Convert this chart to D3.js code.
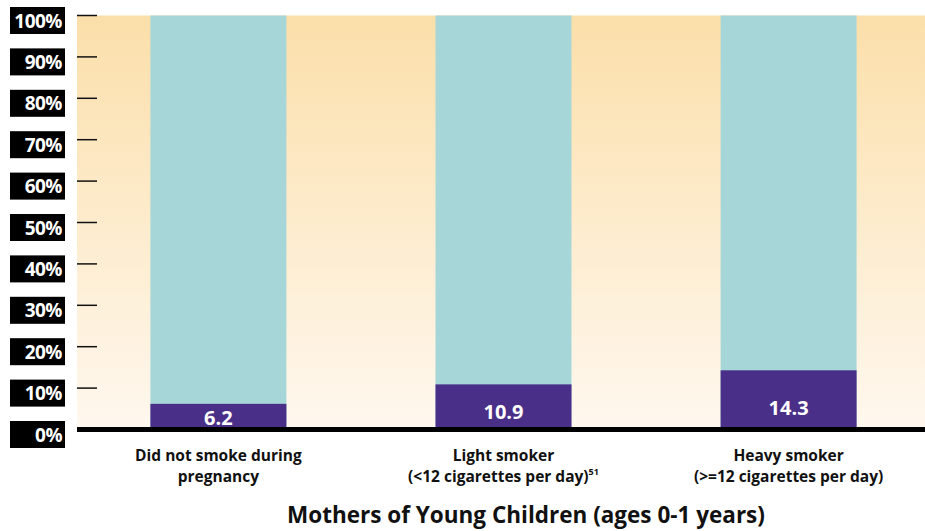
<!DOCTYPE html>
<html><head><meta charset="utf-8">
<script src="https://cdn.jsdelivr.net/npm/d3@7"></script>
<style>body{margin:0;background:#fff}svg{display:block}text{font-family:"Open Sans",sans-serif;font-weight:700}</style>
</head><body>
<script>
const categories = [["Did not smoke during","pregnancy"],["Light smoker","(<12 cigarettes per day)"],["Heavy smoker","(>=12 cigarettes per day)"]];
const superscripts = ["","51",""];
const values = [6.2, 10.9, 14.3];
const totals = [100, 100, 100];
const yTicks = [0,10,20,30,40,50,60,70,80,90,100];
const xTitle = "Mothers of Young Children (ages 0-1 years)";

const W=925,H=531;
const svg=d3.select("body").append("svg").attr("width",W).attr("height",H);
const y=d3.scaleLinear().domain([0,100]).range([429.5,15.5]);
const x=d3.scaleBand().domain(d3.range(categories.length)).range([76,931]).paddingInner(0.523).paddingOuter(0.261);

const defs=svg.append("defs");
const g=defs.append("linearGradient").attr("id","bg").attr("x1",0).attr("y1",0).attr("x2",0).attr("y2",1);
g.append("stop").attr("offset","0%").attr("stop-color","#FBDFAA");
g.append("stop").attr("offset","100%").attr("stop-color","#FFF8EF");
svg.append("rect").attr("x",77).attr("y",y(100)).attr("width",W-77).attr("height",y(0)-y(100)).attr("fill","url(#bg)");

// bars
svg.selectAll(".tot").data(totals).join("rect").attr("x",(d,i)=>x(i)).attr("width",x.bandwidth())
  .attr("y",d=>y(d)).attr("height",d=>y(0)-y(d)).attr("fill","#A7D6D8");
svg.selectAll(".val").data(values).join("rect").attr("x",(d,i)=>x(i)).attr("width",x.bandwidth())
  .attr("y",d=>y(d)).attr("height",d=>y(0)-y(d)).attr("fill","#4A2F88");
svg.selectAll(".vl").data(values).join("text").attr("x",(d,i)=>x(i)+x.bandwidth()/2)
  .attr("y",d=>y(d*0.3)+3).attr("text-anchor","middle").attr("fill","#fff").attr("font-size",20)
  .text(d=>d.toFixed(1));

// y axis ticks
const yt=svg.append("g");
yt.selectAll("line").data(yTicks).join("line").attr("x1",77).attr("x2",97).attr("y1",d=>y(d)).attr("y2",d=>y(d))
  .attr("stroke","#111").attr("stroke-width",1.5);
yt.selectAll("rect").data(yTicks).join("rect").attr("x",10).attr("width",55).attr("y",d=>y(d)-8.5).attr("height",27).attr("fill","#000");
yt.selectAll("text").data(yTicks).join("text").attr("x",62).attr("y",d=>y(d)+12).attr("text-anchor","end")
  .attr("fill","#fff").attr("font-size",19).style("letter-spacing","-0.5px").text(d=>d+"%");

// baseline
svg.append("line").attr("x1",77).attr("x2",W).attr("y1",y(0)).attr("y2",y(0)).attr("stroke","#000").attr("stroke-width",5);

// category labels
categories.forEach((c,i)=>{
  const cx=x(i)+x.bandwidth()/2;
  svg.append("text").attr("x",cx).attr("y",461).attr("text-anchor","middle").attr("font-size",15.5).attr("fill","#111").text(c[0]);
  const t2=svg.append("text").attr("x",cx).attr("y",482).attr("text-anchor","middle").attr("font-size",15.5).attr("fill","#111").text(c[1]);
  if(superscripts[i]) t2.append("tspan").attr("dy",-7).attr("font-size",9).text(superscripts[i]);
});

svg.append("text").attr("x",526).attr("y",523).attr("text-anchor","middle").attr("font-size",22.5).attr("fill","#111").text(xTitle);
</script>
</body></html>
